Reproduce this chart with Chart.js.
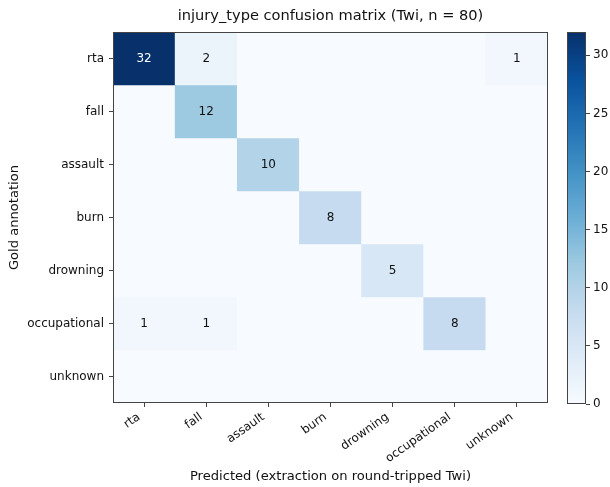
<!DOCTYPE html>
<html>
<head>
<meta charset="utf-8">
<script src="https://cdn.jsdelivr.net/npm/chart.js@4.4.1/dist/chart.umd.min.js"></script>
<style>
  html, body { margin: 0; padding: 0; background: #fff; }
  #wrap { position: relative; width: 610px; height: 487px; }
  #wrap canvas { position: absolute; left: 0; top: 0; }
</style>
</head>
<body>
<div id="wrap">
  <canvas id="main" width="610" height="487"></canvas>
  <canvas id="cbar" width="610" height="487"></canvas>
</div>
<script>
// ---- data ----
const predictedLabels = ['rta', 'fall', 'assault', 'burn', 'drowning', 'occupational', 'unknown'];
const goldLabels = ['rta', 'fall', 'assault', 'burn', 'drowning', 'occupational', 'unknown'];
const rowRta = [32, 2, 0, 0, 0, 0, 1];
const rowFall = [0, 12, 0, 0, 0, 0, 0];
const rowAssault = [0, 0, 10, 0, 0, 0, 0];
const rowBurn = [0, 0, 0, 8, 0, 0, 0];
const rowDrowning = [0, 0, 0, 0, 5, 0, 0];
const rowOccupational = [1, 1, 0, 0, 0, 8, 0];
const rowUnknown = [0, 0, 0, 0, 0, 0, 0];
const matrix = [rowRta, rowFall, rowAssault, rowBurn, rowDrowning, rowOccupational, rowUnknown];
const colorbarTicks = [0, 5, 10, 15, 20, 25, 30];
const vmax = 32;

// ---- Blues colormap ----
const bluesStops = [
  [247,251,255],[222,235,247],[198,219,239],[158,202,225],[107,174,214],
  [66,146,198],[33,113,181],[8,81,156],[8,48,107]
];
function blues(t) {
  t = Math.max(0, Math.min(1, t));
  const p = t * (bluesStops.length - 1);
  const i = Math.min(Math.floor(p), bluesStops.length - 2);
  const f = p - i;
  const a = bluesStops[i], b = bluesStops[i + 1];
  const c = a.map((v, k) => Math.round(v + (b[k] - v) * f));
  return `rgb(${c[0]},${c[1]},${c[2]})`;
}

Chart.defaults.font.family = '"DejaVu Sans", sans-serif';
Chart.defaults.font.size = 12;
Chart.defaults.color = '#111';
Chart.defaults.animation = false;

const datasets = matrix.map((row, r) => ({
  label: goldLabels[r],
  data: row.map(() => [r - 0.5, r + 0.5]),
  backgroundColor: row.map(v => blues(v / vmax)),
  borderWidth: 0,
  barPercentage: 1,
  categoryPercentage: 1,
  grouped: false
}));

const annotatePlugin = {
  id: 'annotate',
  afterDatasetsDraw(chart) {
    const {ctx, scales: {x, y}, chartArea: a} = chart;
    ctx.save();
    ctx.font = '12px "DejaVu Sans", sans-serif';
    ctx.textAlign = 'center';
    ctx.textBaseline = 'middle';
    matrix.forEach((row, r) => row.forEach((v, c) => {
      if (v > 0) {
        ctx.fillStyle = v > vmax / 2 ? '#fff' : '#111';
        ctx.fillText(String(v), x.getPixelForValue(c), y.getPixelForValue(r));
      }
    }));
    ctx.strokeStyle = '#444';
    ctx.lineWidth = 1;
    ctx.strokeRect(Math.round(a.left) + 0.5, Math.round(a.top) + 0.5,
      Math.round(a.right - a.left) - 1, Math.round(a.bottom - a.top) - 1);
    ctx.restore();
  }
};

new Chart(document.getElementById('main'), {
  type: 'bar',
  data: { labels: predictedLabels, datasets },
  options: {
    responsive: false,
    devicePixelRatio: 1,
    layout: { padding: { left: 0, right: 62, top: 0, bottom: 0 } },
    plugins: {
      legend: { display: false },
      tooltip: { enabled: false },
      title: {
        display: true,
        fullSize: false,
        text: 'injury_type confusion matrix (Twi, n = 80)',
        font: { size: 14.6, weight: 'normal' },
        color: '#111',
        padding: { top: 7.5, bottom: 6.98 }
      }
    },
    scales: {
      x: {
        type: 'category',
        offset: true,
        grid: { display: true, drawOnChartArea: false, drawTicks: true, tickLength: 4, offset: false, color: '#444' },
        border: { display: false },
        ticks: { autoSkip: false, maxRotation: 35, minRotation: 35, padding: 3, labelOffset: -5, color: '#111', font: { size: 12 } },
        title: { display: true, text: 'Predicted (extraction on round-tripped Twi)', font: { size: 13.1 }, color: '#111', padding: { top: 0, bottom: 3 } },
        afterFit(s) { s.height = 84; }
      },
      y: {
        type: 'linear',
        reverse: true,
        min: -0.5,
        max: 6.5,
        grid: { display: true, drawOnChartArea: false, drawTicks: true, tickLength: 4, color: '#444' },
        border: { display: false },
        afterBuildTicks(s) { s.ticks = goldLabels.map((_, i) => ({ value: i })); },
        ticks: { padding: 5, color: '#111', font: { size: 12 }, callback: (v) => goldLabels[v] },
        title: { display: true, text: 'Gold annotation', font: { size: 13.1 }, color: '#111', padding: { top: 7, bottom: 0 } },
        afterFit(s) { s.width = 113; }
      }
    }
  },
  plugins: [annotatePlugin]
});

// ---- colorbar ----
const outlinePlugin = {
  id: 'outline',
  afterDatasetsDraw(chart) {
    const {ctx, chartArea: a} = chart;
    ctx.save();
    ctx.strokeStyle = '#444';
    ctx.lineWidth = 1;
    ctx.strokeRect(Math.round(a.left) + 0.5, Math.round(a.top) + 0.5,
      Math.round(a.right - a.left) - 1, Math.round(a.bottom - a.top) - 1);
    ctx.restore();
  }
};

new Chart(document.getElementById('cbar'), {
  type: 'bar',
  data: {
    labels: [''],
    datasets: [{
      data: [[0, vmax]],
      borderWidth: 0,
      barPercentage: 1,
      categoryPercentage: 1,
      backgroundColor(ctx) {
        const area = ctx.chart.chartArea;
        if (!area) return 'rgba(0,0,0,0)';
        const g = ctx.chart.ctx.createLinearGradient(0, area.bottom, 0, area.top);
        bluesStops.forEach((c, i) => g.addColorStop(i / (bluesStops.length - 1), `rgb(${c[0]},${c[1]},${c[2]})`));
        return g;
      }
    }]
  },
  options: {
    responsive: false,
    devicePixelRatio: 1,
    layout: { padding: { left: 567, right: 0, top: 32, bottom: 83 } },
    plugins: { legend: { display: false }, tooltip: { enabled: false } },
    scales: {
      x: { display: false },
      y: {
        position: 'right',
        min: 0,
        max: vmax,
        grid: { display: true, drawOnChartArea: false, drawTicks: true, tickLength: 4, color: '#444' },
        border: { display: false },
        afterBuildTicks(s) { s.ticks = colorbarTicks.map(v => ({ value: v })); },
        ticks: { padding: 3, color: '#111', font: { size: 12 } },
        afterFit(s) { s.width = 24; }
      }
    }
  },
  plugins: [outlinePlugin]
});
</script>
</body>
</html>
